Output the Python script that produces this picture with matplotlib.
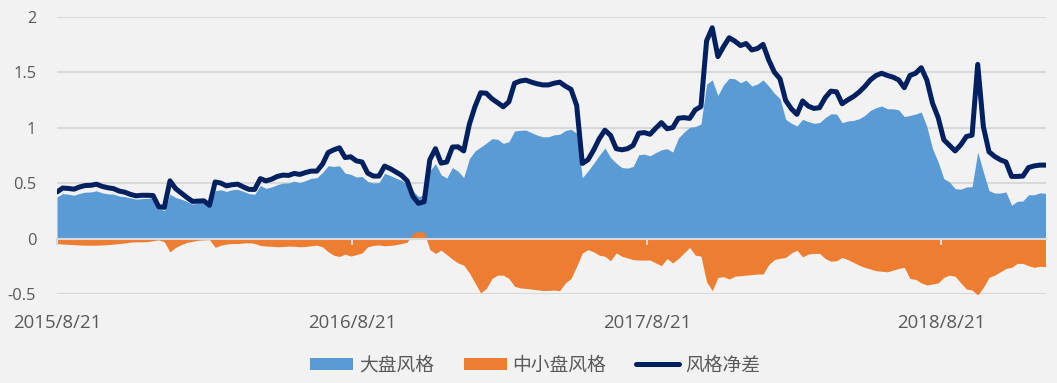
import matplotlib
matplotlib.use('Agg')
import matplotlib.pyplot as plt
from matplotlib.patches import Patch
from matplotlib.lines import Line2D
import pandas as pd

# weekly values, first week 2015/8/21
big = [0.375, 0.405, 0.40, 0.39, 0.407, 0.418, 0.42, 0.43, 0.412, 0.403,
       0.40, 0.383, 0.378, 0.366, 0.355, 0.36, 0.362, 0.368, 0.275, 0.251,
       0.40, 0.37, 0.355, 0.335, 0.31, 0.323, 0.328, 0.29, 0.43, 0.44,
       0.425, 0.44, 0.444, 0.425, 0.405, 0.399, 0.478, 0.452, 0.465, 0.486,
       0.50, 0.501, 0.517, 0.504, 0.523, 0.543, 0.548, 0.595, 0.656, 0.65,
       0.656, 0.59, 0.579, 0.555, 0.56, 0.515, 0.501, 0.505, 0.588, 0.568,
       0.545, 0.525, 0.488, 0.43, 0.379, 0.392, 0.61, 0.676, 0.575, 0.545,
       0.64, 0.607, 0.55, 0.72, 0.79, 0.824, 0.86, 0.90, 0.895, 0.858,
       0.873, 0.97, 0.975, 0.978, 0.955, 0.933, 0.917, 0.917, 0.935, 0.94,
       0.974, 0.985, 0.95, 0.547, 0.61, 0.677, 0.75, 0.817, 0.73, 0.68,
       0.64, 0.635, 0.65, 0.756, 0.761, 0.746, 0.775, 0.80, 0.81, 0.78,
       0.905, 0.96, 1.003, 1.01, 1.032, 1.392, 1.43, 1.29, 1.386, 1.445,
       1.44, 1.405, 1.428, 1.375, 1.393, 1.43, 1.375, 1.31, 1.262, 1.075,
       1.04, 1.015, 1.075, 1.054, 1.039, 1.046, 1.09, 1.124, 1.123, 1.045,
       1.06, 1.065, 1.08, 1.11, 1.155, 1.18, 1.195, 1.17, 1.17, 1.16,
       1.10, 1.11, 1.122, 1.14, 1.009, 0.81, 0.69, 0.54, 0.51, 0.45,
       0.445, 0.465, 0.468, 0.78, 0.60, 0.432, 0.41, 0.41, 0.42, 0.30,
       0.336, 0.339, 0.395, 0.395, 0.412, 0.408]

small = [-0.045, -0.05, -0.052, -0.055, -0.058, -0.06, -0.06, -0.06, -0.058, -0.055,
         -0.05, -0.045, -0.04, -0.032, -0.03, -0.03, -0.028, -0.02, -0.012, -0.03,
         -0.12, -0.08, -0.055, -0.035, -0.025, -0.015, -0.012, -0.01, -0.08, -0.06,
         -0.05, -0.045, -0.046, -0.04, -0.038, -0.044, -0.062, -0.068, -0.07, -0.074,
         -0.072, -0.068, -0.07, -0.074, -0.072, -0.065, -0.06, -0.075, -0.119, -0.15,
         -0.162, -0.14, -0.158, -0.145, -0.13, -0.075, -0.062, -0.058, -0.065, -0.062,
         -0.055, -0.045, -0.032, 0.05, 0.062, 0.06, -0.10, -0.134, -0.105, -0.145,
         -0.185, -0.22, -0.24, -0.31, -0.40, -0.49, -0.45, -0.36, -0.33, -0.33,
         -0.36, -0.43, -0.445, -0.45, -0.455, -0.462, -0.468, -0.468, -0.465, -0.47,
         -0.40, -0.36, -0.25, -0.13, -0.10, -0.12, -0.15, -0.16, -0.20, -0.13,
         -0.16, -0.175, -0.19, -0.194, -0.194, -0.194, -0.22, -0.245, -0.18, -0.22,
         -0.18, -0.13, -0.08, -0.15, -0.158, -0.39, -0.47, -0.35, -0.344, -0.365,
         -0.34, -0.335, -0.33, -0.325, -0.32, -0.32, -0.235, -0.19, -0.178, -0.17,
         -0.13, -0.105, -0.165, -0.14, -0.134, -0.134, -0.18, -0.205, -0.20, -0.17,
         -0.19, -0.215, -0.24, -0.26, -0.275, -0.29, -0.295, -0.30, -0.285, -0.27,
         -0.26, -0.36, -0.368, -0.40, -0.419, -0.41, -0.40, -0.35, -0.33, -0.34,
         -0.40, -0.455, -0.464, -0.509, -0.44, -0.35, -0.33, -0.30, -0.27, -0.26,
         -0.224, -0.224, -0.245, -0.26, -0.25, -0.254]

net = [0.42, 0.455, 0.452, 0.445, 0.465, 0.478, 0.48, 0.49, 0.47, 0.458,
       0.45, 0.428, 0.418, 0.398, 0.385, 0.39, 0.39, 0.388, 0.287, 0.281,
       0.52, 0.45, 0.41, 0.37, 0.335, 0.338, 0.34, 0.30, 0.51, 0.50,
       0.475, 0.485, 0.49, 0.465, 0.443, 0.443, 0.54, 0.52, 0.535, 0.56,
       0.572, 0.569, 0.587, 0.578, 0.595, 0.608, 0.608, 0.67, 0.775, 0.80,
       0.818, 0.73, 0.737, 0.70, 0.69, 0.59, 0.563, 0.563, 0.653, 0.63,
       0.60, 0.57, 0.52, 0.38, 0.317, 0.332, 0.71, 0.81, 0.68, 0.69,
       0.825, 0.827, 0.79, 1.03, 1.19, 1.314, 1.31, 1.26, 1.225, 1.188,
       1.233, 1.40, 1.42, 1.428, 1.41, 1.395, 1.385, 1.385, 1.40, 1.41,
       1.374, 1.345, 1.20, 0.677, 0.71, 0.797, 0.90, 0.977, 0.93, 0.81,
       0.80, 0.81, 0.84, 0.95, 0.955, 0.94, 0.995, 1.045, 0.99, 1.0,
       1.085, 1.09, 1.083, 1.16, 1.19, 1.782, 1.90, 1.64, 1.73, 1.81,
       1.78, 1.74, 1.758, 1.70, 1.713, 1.75, 1.61, 1.50, 1.44, 1.245,
       1.17, 1.12, 1.24, 1.194, 1.173, 1.18, 1.27, 1.329, 1.323, 1.215,
       1.25, 1.28, 1.32, 1.37, 1.43, 1.47, 1.49, 1.47, 1.455, 1.43,
       1.36, 1.47, 1.49, 1.54, 1.428, 1.22, 1.09, 0.89, 0.84, 0.79,
       0.845, 0.92, 0.932, 1.57, 1.008, 0.782, 0.74, 0.71, 0.69, 0.56,
       0.56, 0.563, 0.64, 0.655, 0.662, 0.662]

dates = pd.date_range('2015-08-21', periods=len(net), freq='7D')
xtick_dates = ['2015-08-21', '2016-08-21', '2017-08-21', '2018-08-21']
xtick_labels = ['2015/8/21', '2016/8/21', '2017/8/21', '2018/8/21']
yticks = [-0.5, 0, 0.5, 1, 1.5, 2]
ytick_labels = ['-0.5', '0', '0.5', '1', '1.5', '2']
names = ['大盘风格', '中小盘风格', '风格净差']

bg = '#F2F2F2'
txt = '#595959'
grid = '#D9D9D9'
c_big, c_small, c_net = '#5B9BD5', '#ED7D31', '#002060'

fig = plt.figure(figsize=(10.57, 3.83), dpi=100, facecolor=bg)
ax = fig.add_axes([57 / 1057, 1 - 294 / 383, (1045.5 - 57) / 1057, (294 - 16.7) / 383])
ax.set_facecolor(bg)

ax.fill_between(dates, 0, big, color=c_big, lw=0, zorder=1)
ax.fill_between(dates, 0, small, color=c_small, lw=0, zorder=1.2)
ax.plot(dates, net, color=c_net, lw=3.6, solid_joinstyle='round',
        solid_capstyle='round', zorder=4)

ax.set_xlim(dates[0], dates[-1])
ax.set_ylim(-0.5, 2)
ax.set_yticks(yticks)
ax.set_yticklabels(ytick_labels)
ax.set_xticks(pd.to_datetime(xtick_dates))
ax.set_xticklabels(xtick_labels)

ax.set_axisbelow(True)
ax.yaxis.grid(True, color=grid, lw=1.5)
ax.xaxis.set_zorder(3)
for s in ['top', 'right', 'left']:
    ax.spines[s].set_visible(False)
ax.spines['bottom'].set_position(('data', 0))
ax.spines['bottom'].set_color(grid)
ax.spines['bottom'].set_linewidth(1.5)
ax.spines['bottom'].set_zorder(3)

ax.tick_params(axis='y', length=0, pad=15, labelsize=11.8, labelcolor=txt)
ax.tick_params(axis='x', length=4, width=1.5, color=grid, direction='out',
               pad=50, labelsize=13.4, labelcolor=txt)
for lab in ax.get_xticklabels() + ax.get_yticklabels():
    lab.set_fontfamily('Open Sans')

handles = [Patch(facecolor=c_big, edgecolor='none'),
           Patch(facecolor=c_small, edgecolor='none'),
           Line2D([], [], color=c_net, lw=3.6, solid_capstyle='round')]
leg = fig.legend(handles, names, loc='center', ncol=3,
                 bbox_to_anchor=(535 / 1057, 1 - 365 / 383), frameon=False,
                 prop={'family': ['Noto Sans CJK SC', 'DejaVu Sans'], 'size': 13.5},
                 handlelength=2.3, handleheight=0.62, handletextpad=0.3,
                 columnspacing=1.6, labelcolor=txt)

fig.savefig('out.png', dpi=100, facecolor=bg)
